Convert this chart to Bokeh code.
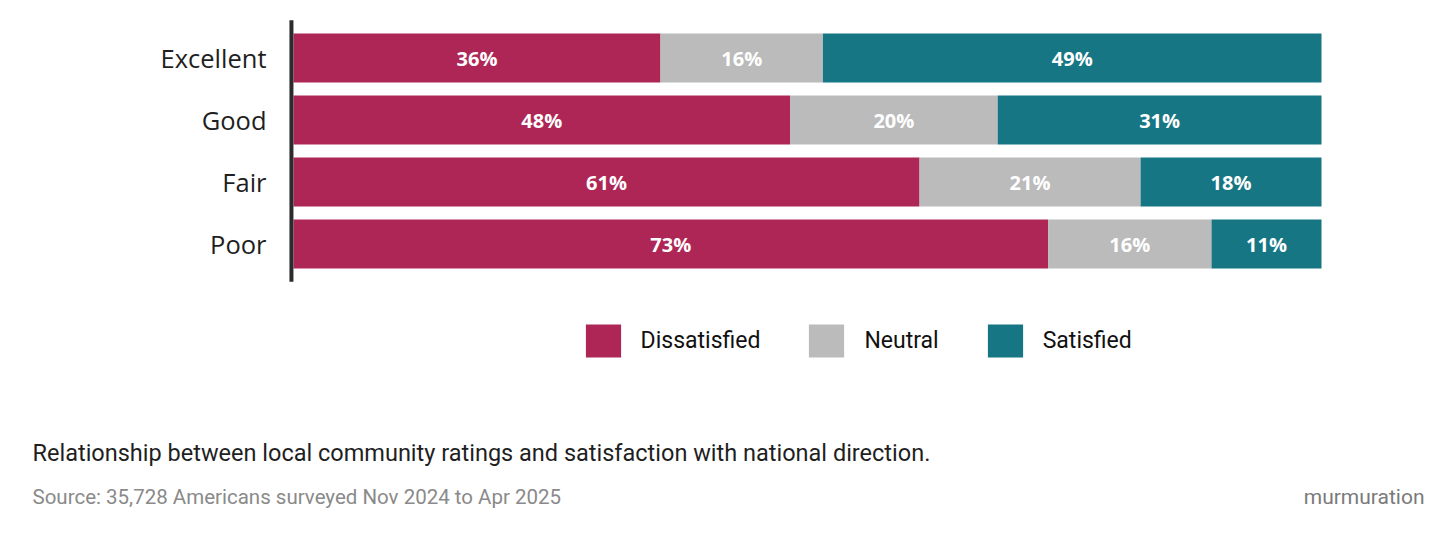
from bokeh.plotting import figure
from bokeh.models import Range1d, Legend, LegendItem, ColumnDataSource, Label
from bokeh.core.properties import value
from bokeh.embed import file_html
from bokeh.resources import INLINE

categories = ["Excellent", "Good", "Fair", "Poor"]
dissatisfied = [35.7, 48.3, 60.9, 73.4]
neutral = [15.8, 20.2, 21.5, 15.9]
satisfied = [48.5, 31.5, 17.6, 10.7]
dissatisfied_labels = ["36%", "48%", "61%", "73%"]
neutral_labels = ["16%", "20%", "21%", "16%"]
satisfied_labels = ["49%", "31%", "18%", "11%"]
series_names = ["Dissatisfied", "Neutral", "Satisfied"]
colors = ["#AE2656", "#BBBBBB", "#177684"]

caption = "Relationship between local community ratings and satisfaction with national direction."
source_text = "Source: 35,728 Americans surveyed Nov 2024 to Apr 2025"
brand = "murmuration"

W, H = 1456, 534
# plot area geometry (pixels): bars from x=293 to x=1321, rows 62px apart, first row centred at y=57.5
px_per_pct = (1321 - 293) / 100.0
row_px = 62.0
first_row_y = 57.5

rows = list(range(len(categories)))
src = ColumnDataSource(dict(row=rows, cat=categories, dis=dissatisfied, neu=neutral, sat=satisfied))

p = figure(width=W, height=H,
           x_range=Range1d(-293 / px_per_pct, 100 + (W - 1321) / px_per_pct),
           y_range=Range1d((H - first_row_y) / row_px, -first_row_y / row_px),
           min_border=0, output_backend="svg", toolbar_location=None)
p.axis.visible = False
p.grid.visible = False
p.outline_line_color = None

renderers = p.hbar_stack(["dis", "neu", "sat"], y="row", height=0.79, color=colors,
                         line_color=None, source=src)

# vertical axis line spanning the rows plus padding
pad = 0.11
p.segment(x0=[-0.2], x1=[-0.2], y0=[-0.5 - pad], y1=[len(categories) - 0.5 + pad],
          line_color="#2b2b2b", line_width=4)

# category labels
p.text(x=[-27 / px_per_pct] * len(categories), y=rows, text=categories,
       text_font=value("Open Sans"), text_font_size="25.5px", text_color="#1f1f1f",
       text_align="right", text_baseline="middle")

def mids(vals_list):
    out = []
    for i in range(len(categories)):
        start = 0.0
        row = []
        for vals in vals_list:
            row.append(start + vals[i] / 2.0)
            start += vals[i]
        out.append(row)
    return out

m = mids([dissatisfied, neutral, satisfied])
for j, labels in enumerate([dissatisfied_labels, neutral_labels, satisfied_labels]):
    lsrc = ColumnDataSource(dict(x=[m[i][j] for i in rows], y=rows, t=labels))
    p.text(x="x", y="y", text="t", source=lsrc, text_color="white",
           text_font=value("Open Sans"), text_font_style="bold", text_font_size="20px",
           text_align="center", text_baseline="middle")

legend = Legend(items=[LegendItem(label=series_names[k], renderers=[renderers[k]]) for k in range(3)],
                orientation="horizontal", location=(580.6, 173.4),
                glyph_width=44, glyph_height=41, label_standoff=16, spacing=44,
                padding=0, margin=0, border_line_color=None, background_fill_alpha=0,
                label_text_font="Roboto", label_text_font_size="23px", label_text_color="#111111")
p.add_layout(legend)

p.add_layout(Label(x=32, y=H - 452, x_units="screen", y_units="screen", text=caption,
                   text_font="Roboto", text_font_size="23.5px", text_color="#1f1f1f",
                   text_baseline="alphabetic"))
p.add_layout(Label(x=32, y=H - 496, x_units="screen", y_units="screen", text=source_text,
                   text_font="Roboto", text_font_size="20.5px", text_color="#8a8a8a",
                   text_baseline="alphabetic"))
p.add_layout(Label(x=1424, y=H - 496, x_units="screen", y_units="screen", text=brand,
                   text_font="Roboto", text_font_size="21px", text_color="#7a7a7a",
                   text_align="right", text_baseline="alphabetic"))

open("out.html", "w").write(file_html(p, INLINE))
